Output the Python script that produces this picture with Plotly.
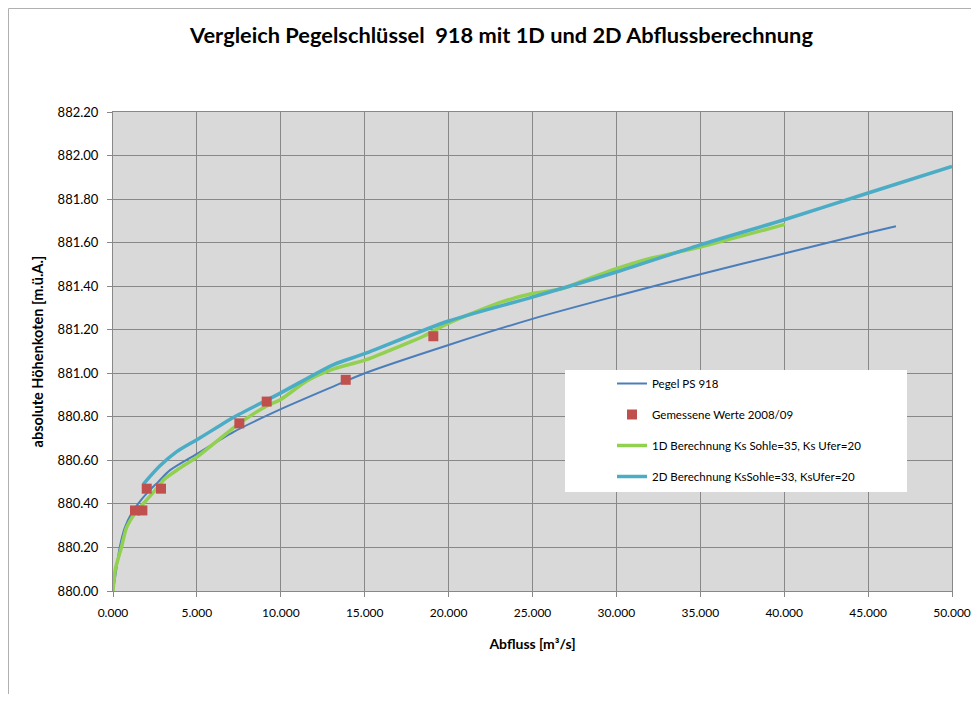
import plotly.graph_objects as go

# ---- data ----
pegel_q = [0.0, 0.2, 0.4, 0.7, 1.09, 1.49, 2.09, 2.68, 3.4, 5.0, 7.17, 10.0, 13.15, 15.0, 20.0, 25.0, 30.0, 35.0, 40.0, 45.0, 46.66]
pegel_h = [880.00, 880.10, 880.20, 880.29, 880.355, 880.40, 880.455, 880.50, 880.555, 880.63, 880.73, 880.835, 880.94, 881.00, 881.13, 881.25, 881.355, 881.455, 881.55, 881.645, 881.675]

meas_q = [1.31, 1.75, 2.01, 2.86, 7.53, 9.16, 13.87, 19.09]
meas_h = [880.37, 880.37, 880.47, 880.47, 880.77, 880.87, 880.97, 881.17]

d1_q = [0.0, 0.14, 0.5, 0.8, 1.29, 1.79, 2.48, 3.08, 3.9, 5.0, 6.38, 7.53, 9.16, 10.0, 11.55, 13.15, 15.0, 17.9, 18.5, 20.0, 21.87, 23.26, 25.0, 26.84, 28.03, 30.0, 32.0, 35.0, 40.05]
d1_h = [880.00, 880.10, 880.20, 880.29, 880.355, 880.40, 880.46, 880.515, 880.56, 880.615, 880.70, 880.77, 880.85, 880.88, 880.965, 881.02, 881.06, 881.15, 881.17, 881.23, 881.29, 881.33, 881.366, 881.39, 881.425, 881.48, 881.527, 881.58, 881.684]

d2_q = [1.8, 2.8, 3.8, 5.0, 6.38, 7.17, 10.0, 13.15, 15.0, 20.0, 25.0, 30.0, 35.0, 40.0, 45.0, 50.0]
d2_h = [880.49, 880.575, 880.64, 880.695, 880.76, 880.797, 880.91, 881.04, 881.09, 881.24, 881.35, 881.465, 881.59, 881.705, 881.828, 881.95]

x_ticks = [0, 5, 10, 15, 20, 25, 30, 35, 40, 45, 50]
y_ticks = [880.0, 880.2, 880.4, 880.6, 880.8, 881.0, 881.2, 881.4, 881.6, 881.8, 882.0, 882.2]

names = ["Pegel PS 918", "Gemessene Werte 2008/09",
         "1D Berechnung Ks Sohle=35, Ks Ufer=20",
         "2D Berechnung KsSohle=33, KsUfer=20"]

FONT = "Lato"

fig = go.Figure()
fig.add_trace(go.Scatter(x=pegel_q, y=pegel_h, mode="lines", name=names[0],
                         line=dict(color="#4a7ebb", width=2, shape="spline", smoothing=0.8),
                         legendgroup="a", legendrank=1))
fig.add_trace(go.Scatter(x=d1_q, y=d1_h, mode="lines", name=names[2],
                         line=dict(color="#92d050", width=3.5, shape="spline", smoothing=0.6),
                         legendgroup="c", legendrank=3))
fig.add_trace(go.Scatter(x=d2_q, y=d2_h, mode="lines", name=names[3],
                         line=dict(color="#4bacc6", width=3.5, shape="spline", smoothing=0.8),
                         legendgroup="d", legendrank=4))
fig.add_trace(go.Scatter(x=meas_q, y=meas_h, mode="markers", name=names[1],
                         marker=dict(color="#c0504d", size=10, symbol="square"),
                         legendgroup="b", legendrank=2))

# page body has an 8px margin: figure origin sits at (8, 8) in the window
OX, OY = 8, 8
W, H = 963, 686
L, T = 113 - OX, 112 - OY
R = OX + W - 952
B = OY + H - 591
pw, ph = W - L - R, H - T - B

def px(xabs):
    return (xabs - 113) / pw

def py(yabs):
    return (591 - yabs) / ph

shapes = [
    # outer chart border
    dict(type="rect", xref="paper", yref="paper", x0=px(8.5), x1=px(1300), y0=py(1000), y1=py(8.5),
         line=dict(color="#b0b0b0", width=1), fillcolor="rgba(0,0,0,0)", layer="below"),
    # legend box
    dict(type="rect", xref="paper", yref="paper", x0=px(565), x1=px(907), y0=py(492), y1=py(370),
         line=dict(width=0), fillcolor="white", layer="above"),
]

fig.update_layout(
    width=W, height=H,
    margin=dict(l=L, r=R, t=T, b=B, autoexpand=False),
    paper_bgcolor="white", plot_bgcolor="#d9d9d9",
    font=dict(family=FONT, size=12, color="black"),
    title=dict(text="<b>Vergleich Pegelschlüssel  918 mit 1D und 2D Abflussberechnung</b>",
               x=(501.5 - OX) / W, xanchor="center", y=1 - (35 - OY) / H, yanchor="middle",
               font=dict(family=FONT, size=21.8, color="black")),
    shapes=shapes,
    showlegend=True,
    legend=dict(x=px(612), xanchor="left", y=py(369), yanchor="top",
                bgcolor="rgba(0,0,0,0)", font=dict(family=FONT, size=11.5),
                tracegroupgap=12, traceorder="grouped"),
    xaxis=dict(range=[0, 50], tickvals=x_ticks, tickformat=".3f", automargin=False,
               showgrid=True, gridcolor="#888888", gridwidth=1,
               showline=True, linecolor="#888888", linewidth=1, mirror=True,
               ticks="outside", ticklen=5, tickcolor="#888888", ticklabelstandoff=6,
               ticklabeloverflow="allow",
               tickfont=dict(family=FONT, size=12), zeroline=False,
               title=dict(text="<b>Abfluss [m³/s]</b>", font=dict(family=FONT, size=14), standoff=19)),
    yaxis=dict(range=[880.0, 882.2], tickvals=y_ticks, tickformat=".2f", automargin=False,
               showgrid=True, gridcolor="#888888", gridwidth=1,
               showline=True, linecolor="#888888", linewidth=1, mirror=True,
               ticks="outside", ticklen=5, tickcolor="#888888", ticklabelstandoff=6,
               tickfont=dict(family=FONT, size=13), zeroline=False,
               title=dict(text="<b>absolute Höhenkoten [m.ü.A.]</b>", font=dict(family=FONT, size=14.5), standoff=10)),
)

fig.write_html("out.html")
